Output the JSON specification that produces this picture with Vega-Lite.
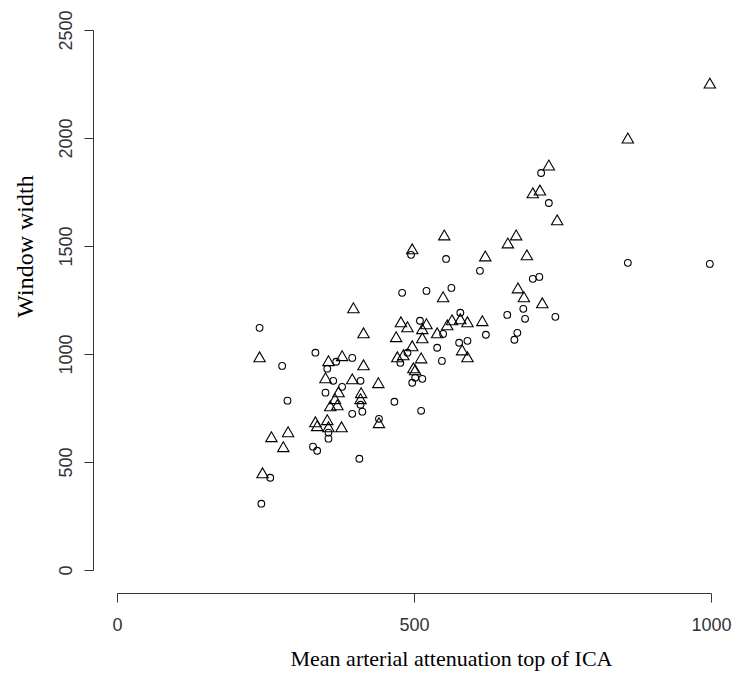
{
  "$schema": "https://vega.github.io/schema/vega-lite/v6.json",
  "width": 594,
  "height": 540,
  "autosize": {"type": "none"},
  "padding": {"left": 117, "top": 30, "right": 24, "bottom": 103},
  "background": "white",
  "config": {"view": {"stroke": null}},
  "data": {
    "values": [
      {"attenuation": 240, "width": 1121, "group": "A"},
      {"attenuation": 240, "width": 987, "group": "B"},
      {"attenuation": 278, "width": 945, "group": "A"},
      {"attenuation": 287, "width": 784, "group": "A"},
      {"attenuation": 260, "width": 617, "group": "B"},
      {"attenuation": 288, "width": 640, "group": "B"},
      {"attenuation": 280, "width": 571, "group": "B"},
      {"attenuation": 245, "width": 450, "group": "B"},
      {"attenuation": 258, "width": 427, "group": "A"},
      {"attenuation": 243, "width": 307, "group": "A"},
      {"attenuation": 398, "width": 1214, "group": "B"},
      {"attenuation": 415, "width": 1098, "group": "B"},
      {"attenuation": 334, "width": 1006, "group": "A"},
      {"attenuation": 356, "width": 969, "group": "B"},
      {"attenuation": 369, "width": 964, "group": "A"},
      {"attenuation": 379, "width": 992, "group": "B"},
      {"attenuation": 396, "width": 982, "group": "A"},
      {"attenuation": 415, "width": 950, "group": "B"},
      {"attenuation": 354, "width": 932, "group": "A"},
      {"attenuation": 351, "width": 890, "group": "B"},
      {"attenuation": 364, "width": 876, "group": "A"},
      {"attenuation": 396, "width": 885, "group": "B"},
      {"attenuation": 410, "width": 876, "group": "A"},
      {"attenuation": 440, "width": 867, "group": "B"},
      {"attenuation": 379, "width": 848, "group": "A"},
      {"attenuation": 351, "width": 821, "group": "A"},
      {"attenuation": 373, "width": 825, "group": "B"},
      {"attenuation": 367, "width": 793, "group": "B"},
      {"attenuation": 359, "width": 760, "group": "B"},
      {"attenuation": 371, "width": 765, "group": "B"},
      {"attenuation": 411, "width": 821, "group": "B"},
      {"attenuation": 410, "width": 793, "group": "B"},
      {"attenuation": 410, "width": 765, "group": "A"},
      {"attenuation": 396, "width": 723, "group": "A"},
      {"attenuation": 413, "width": 733, "group": "A"},
      {"attenuation": 441, "width": 682, "group": "B"},
      {"attenuation": 441, "width": 700, "group": "A"},
      {"attenuation": 467, "width": 779, "group": "A"},
      {"attenuation": 334, "width": 686, "group": "B"},
      {"attenuation": 337, "width": 668, "group": "B"},
      {"attenuation": 354, "width": 696, "group": "B"},
      {"attenuation": 356, "width": 663, "group": "B"},
      {"attenuation": 378, "width": 663, "group": "B"},
      {"attenuation": 356, "width": 636, "group": "A"},
      {"attenuation": 356, "width": 608, "group": "A"},
      {"attenuation": 330, "width": 571, "group": "A"},
      {"attenuation": 337, "width": 552, "group": "A"},
      {"attenuation": 408, "width": 515, "group": "A"},
      {"attenuation": 470, "width": 1080, "group": "B"},
      {"attenuation": 478, "width": 1149, "group": "B"},
      {"attenuation": 489, "width": 1126, "group": "B"},
      {"attenuation": 472, "width": 987, "group": "B"},
      {"attenuation": 482, "width": 996, "group": "B"},
      {"attenuation": 477, "width": 959, "group": "A"},
      {"attenuation": 489, "width": 1006, "group": "A"},
      {"attenuation": 497, "width": 1038, "group": "B"},
      {"attenuation": 499, "width": 936, "group": "B"},
      {"attenuation": 502, "width": 927, "group": "B"},
      {"attenuation": 502, "width": 890, "group": "A"},
      {"attenuation": 514, "width": 885, "group": "A"},
      {"attenuation": 497, "width": 867, "group": "A"},
      {"attenuation": 512, "width": 982, "group": "B"},
      {"attenuation": 512, "width": 737, "group": "A"},
      {"attenuation": 480, "width": 1283, "group": "A"},
      {"attenuation": 497, "width": 1487, "group": "B"},
      {"attenuation": 495, "width": 1459, "group": "A"},
      {"attenuation": 510, "width": 1154, "group": "A"},
      {"attenuation": 521, "width": 1140, "group": "B"},
      {"attenuation": 514, "width": 1117, "group": "B"},
      {"attenuation": 514, "width": 1075, "group": "B"},
      {"attenuation": 539, "width": 1098, "group": "B"},
      {"attenuation": 549, "width": 1093, "group": "A"},
      {"attenuation": 539, "width": 1029, "group": "A"},
      {"attenuation": 547, "width": 968, "group": "A"},
      {"attenuation": 556, "width": 1135, "group": "B"},
      {"attenuation": 564, "width": 1158, "group": "B"},
      {"attenuation": 578, "width": 1163, "group": "B"},
      {"attenuation": 578, "width": 1191, "group": "A"},
      {"attenuation": 590, "width": 1149, "group": "B"},
      {"attenuation": 615, "width": 1154, "group": "B"},
      {"attenuation": 621, "width": 1089, "group": "A"},
      {"attenuation": 576, "width": 1052, "group": "A"},
      {"attenuation": 590, "width": 1061, "group": "A"},
      {"attenuation": 581, "width": 1019, "group": "B"},
      {"attenuation": 590, "width": 987, "group": "B"},
      {"attenuation": 521, "width": 1292, "group": "A"},
      {"attenuation": 563, "width": 1306, "group": "A"},
      {"attenuation": 549, "width": 1265, "group": "B"},
      {"attenuation": 551, "width": 1551, "group": "B"},
      {"attenuation": 554, "width": 1440, "group": "A"},
      {"attenuation": 620, "width": 1454, "group": "B"},
      {"attenuation": 690, "width": 1459, "group": "B"},
      {"attenuation": 611, "width": 1385, "group": "A"},
      {"attenuation": 700, "width": 1348, "group": "A"},
      {"attenuation": 711, "width": 1357, "group": "A"},
      {"attenuation": 675, "width": 1306, "group": "B"},
      {"attenuation": 685, "width": 1265, "group": "B"},
      {"attenuation": 716, "width": 1237, "group": "B"},
      {"attenuation": 684, "width": 1209, "group": "A"},
      {"attenuation": 657, "width": 1181, "group": "A"},
      {"attenuation": 687, "width": 1163, "group": "A"},
      {"attenuation": 738, "width": 1172, "group": "A"},
      {"attenuation": 674, "width": 1098, "group": "A"},
      {"attenuation": 669, "width": 1066, "group": "A"},
      {"attenuation": 658, "width": 1514, "group": "B"},
      {"attenuation": 672, "width": 1551, "group": "B"},
      {"attenuation": 741, "width": 1621, "group": "B"},
      {"attenuation": 727, "width": 1699, "group": "A"},
      {"attenuation": 700, "width": 1746, "group": "B"},
      {"attenuation": 712, "width": 1759, "group": "B"},
      {"attenuation": 714, "width": 1838, "group": "A"},
      {"attenuation": 727, "width": 1875, "group": "B"},
      {"attenuation": 860, "width": 2000, "group": "B"},
      {"attenuation": 860, "width": 1422, "group": "A"},
      {"attenuation": 998, "width": 2254, "group": "B"},
      {"attenuation": 998, "width": 1417, "group": "A"}
    ]
  },
  "mark": {"type": "point", "filled": false, "color": "black", "strokeWidth": 1.1, "opacity": 1, "clip": false},
  "encoding": {
    "x": {
      "field": "attenuation",
      "type": "quantitative",
      "scale": {"domain": [0, 1000], "nice": false, "zero": false},
      "axis": {
        "values": [0, 500, 1000],
        "format": "d",
        "offset": 23,
        "grid": false,
        "domainColor": "#333",
        "tickColor": "#333",
        "tickSize": 9,
        "labelFont": "Liberation Sans",
        "labelFontSize": 18,
        "labelColor": "#333",
        "labelPadding": 14,
        "labelFlush": false,
        "labelOverlap": false,
        "title": "Mean arterial attenuation top of ICA",
        "titleFont": "Liberation Serif",
        "titleFontSize": 22,
        "titleFontWeight": "normal",
        "titleColor": "black",
        "titleAnchor": null,
        "titleAlign": "center",
        "titleBaseline": "alphabetic",
        "titleX": 334,
        "titleY": 72
      }
    },
    "y": {
      "field": "width",
      "type": "quantitative",
      "scale": {"domain": [0, 2500], "nice": false, "zero": false},
      "axis": {
        "values": [0, 500, 1000, 1500, 2000, 2500],
        "format": "d",
        "offset": 24,
        "grid": false,
        "domainColor": "#333",
        "tickColor": "#333",
        "tickSize": 9,
        "labelFont": "Liberation Sans",
        "labelFontSize": 18,
        "labelColor": "#333",
        "labelAngle": 270,
        "labelAlign": "center",
        "labelBaseline": "bottom",
        "labelPadding": 9,
        "labelFlush": false,
        "labelOverlap": false,
        "title": "Window width",
        "titleFont": "Liberation Serif",
        "titleFontSize": 24,
        "titleFontWeight": "normal",
        "titleColor": "black",
        "titleAngle": 270,
        "titleAlign": "center",
        "titleBaseline": "alphabetic",
        "titleX": -61,
        "titleY": 216
      }
    },
    "shape": {
      "field": "group",
      "type": "nominal",
      "scale": {"domain": ["A", "B"], "range": ["circle", "triangle-up"]},
      "legend": null
    },
    "size": {
      "field": "group",
      "type": "ordinal",
      "scale": {"domain": ["A", "B"], "range": [45, 130]},
      "legend": null
    }
  }
}
